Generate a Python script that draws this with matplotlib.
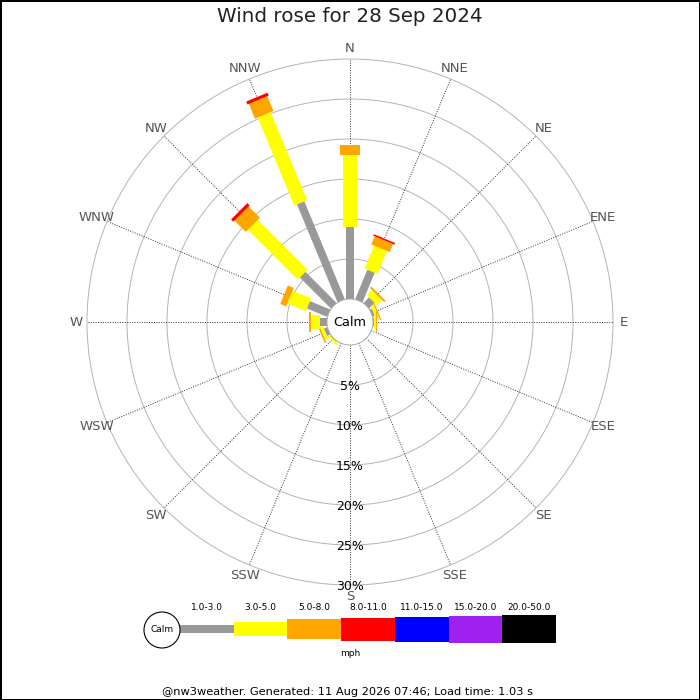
import numpy as np
import matplotlib
matplotlib.use("Agg")
from matplotlib import pyplot as plt
from matplotlib.patches import Polygon, Circle, Rectangle

# --- data (percent of time per direction, per speed band) ---
directions = ["N", "NNE", "NE", "ENE", "E", "ESE", "SE", "SSE",
              "S", "SSW", "SW", "WSW", "W", "WNW", "NW", "NNW"]
band_labels = ["1.0-3.0", "3.0-5.0", "5.0-8.0", "8.0-11.0",
               "11.0-15.0", "15.0-20.0", "20.0-50.0"]
band_colors = ["#999999", "#ffff00", "#ffa500", "#ff0000",
               "#0000ff", "#a020f0", "#000000"]
band_widths = [8, 14, 20, 23, 25, 27, 28]  # px

grey = [9.0, 4.0, 1.0, 0.3, 0.15, 0, 0, 0, 0, 0, 0.1, 0.45, 0.9, 2.75, 5.5, 13.25]
yellow = [9.0, 3.1, 0.9, 0.4, 0.2, 0, 0, 0, 0, 0, 0.25, 0.4, 1.05, 2.5, 8.8, 11.9]
orange = [1.2, 1.1, 0.25, 0.15, 0.1, 0, 0, 0, 0, 0, 0, 0.2, 0.25, 0.8, 2.0, 2.0]
red = [0, 0.2, 0, 0, 0, 0, 0, 0, 0, 0, 0, 0, 0, 0, 0.4, 0.4]
bands = [grey, yellow, orange, red]

rings = [5, 10, 15, 20, 25, 30]

# --- geometry (pixels) ---
cx, cy = 350, 322
calm_r = 23
px_per_pct = 8.0

fig = plt.figure(figsize=(7, 7), dpi=100, linewidth=1, edgecolor="black")
ax = fig.add_axes([0, 0, 1, 1])
ax.set_xlim(0, 700)
ax.set_ylim(700, 0)
ax.set_aspect("equal")
ax.axis("off")


def rad(p):
    return calm_r + px_per_pct * p


# rings
for p in rings:
    ax.add_patch(Circle((cx, cy), rad(p), fill=False, ec="#b4b4b4", lw=0.7, zorder=1))

# spokes + labels
outer = rad(rings[-1])
for i, d in enumerate(directions):
    th = np.deg2rad(i * 22.5)
    ux, uy = np.sin(th), -np.cos(th)
    ax.plot([cx + ux * calm_r, cx + ux * outer], [cy + uy * calm_r, cy + uy * outer],
            ls=(0, (1, 1.5)), color="#333333", lw=0.7, zorder=2)
    ax.text(cx + ux * 274, cy + uy * 274, d, ha="center", va="center",
            fontsize=9.5, color="#555555")

# bars
for i in range(len(directions)):
    th = np.deg2rad(i * 22.5)
    u = np.array([np.sin(th), -np.cos(th)])
    n = np.array([np.cos(th), np.sin(th)])
    c = np.array([cx, cy])
    cum = 0.0
    for b, vals in enumerate(bands):
        v = vals[i]
        if v <= 0:
            continue
        r0, r1 = rad(cum), rad(cum + v)
        cum += v
        hw = band_widths[b] / 2
        pts = [c + u * r0 - n * hw, c + u * r1 - n * hw,
               c + u * r1 + n * hw, c + u * r0 + n * hw]
        ax.add_patch(Polygon(pts, closed=True, fc=band_colors[b], ec="none", zorder=3))

# calm circle
ax.add_patch(Circle((cx, cy), calm_r, fc="white", ec="#aaaaaa", lw=0.7, zorder=4))
ax.text(cx, cy, "Calm", ha="center", va="center", fontsize=9.3, zorder=5)

# percent labels along S
for p in rings:
    ax.text(cx, cy + rad(p) + 2, f"{p}%", ha="center", va="center", fontsize=9, zorder=5)

# title
ax.text(350, 17, "Wind rose for 28 Sep 2024", ha="center", va="center", fontsize=14.3,
        color="#222222")

# legend
lx0, seg = 180, 53.7
ly = 629
ax.add_patch(Circle((162, 630), 18, fc="white", ec="black", lw=0.8, zorder=3))
ax.text(162, 630, "Calm", ha="center", va="center", fontsize=6.5)
for b, (lab, col) in enumerate(zip(band_labels, band_colors)):
    h = band_widths[b]
    ax.add_patch(Rectangle((lx0 + b * seg, ly - h / 2), seg, h, fc=col, ec="none"))
    ax.text(lx0 + b * seg + seg / 2, 607, lab, ha="center", va="center", fontsize=6.5)
ax.text(350, 654, "mph", ha="center", va="center", fontsize=6.5)

ax.text(348, 692, "@nw3weather. Generated: 11 Aug 2026 07:46; Load time: 1.03 s",
        ha="center", va="center", fontsize=8.2)

fig.savefig("out.png", dpi=100, edgecolor=fig.get_edgecolor())
